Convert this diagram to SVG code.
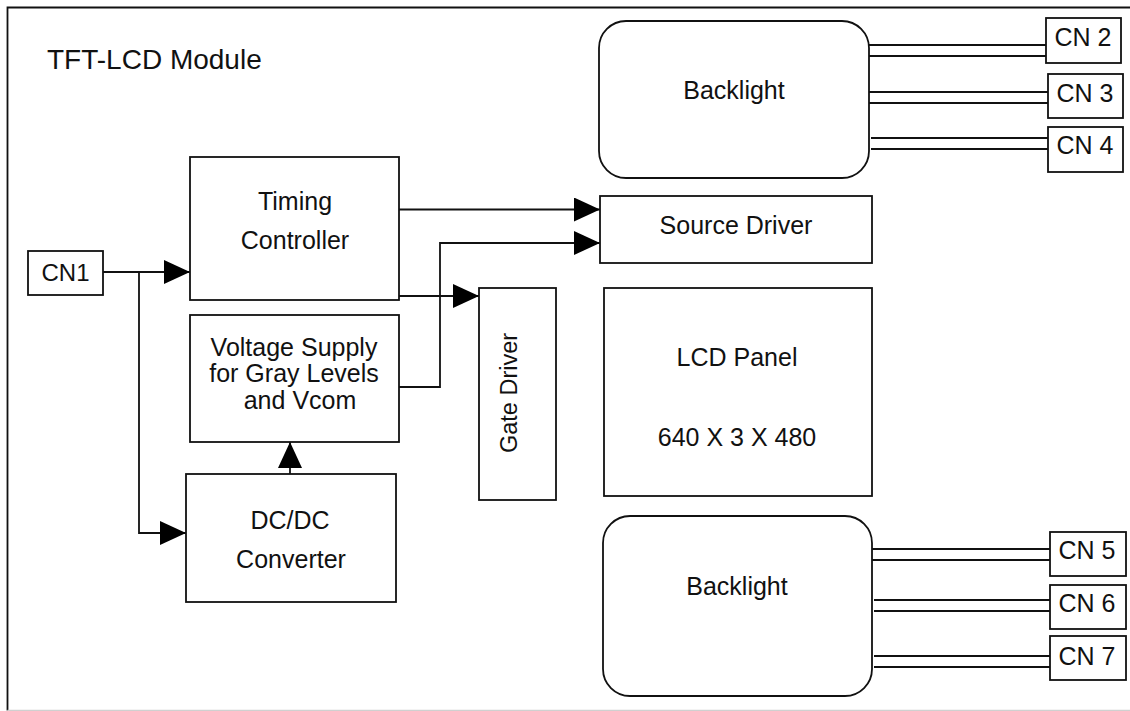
<svg xmlns="http://www.w3.org/2000/svg" width="1130" height="711" viewBox="0 0 1130 711">
<style>
.box{fill:#fff;stroke:#111;stroke-width:1.8}
.ln{fill:none;stroke:#111;stroke-width:1.8}
.t{font-family:"Liberation Sans",Arial,sans-serif;font-size:25px;fill:#111;text-anchor:middle}
</style>
<defs>
<marker id="ah" markerUnits="userSpaceOnUse" markerWidth="26" markerHeight="24" refX="26" refY="12" orient="auto">
<path d="M0,0 L26,12 L0,24 Z" fill="#000"/>
</marker>
</defs>
<rect width="1130" height="711" fill="#fff"/>
<g id="frame">
<path class="ln" d="M1130,7.5 H7.5 V710.5"/>
<line x1="7.5" y1="710.5" x2="1130" y2="710.5" stroke="#d0d0d0" stroke-width="1.6"/>
<text x="47" y="69" style="font-family:'Liberation Sans',Arial,sans-serif;font-size:28px;fill:#111">TFT-LCD Module</text>
</g>
<g id="connectors">
<path class="ln" d="M103,272 H190" marker-end="url(#ah)"/>
<path class="ln" d="M139,272 V533 H186" marker-end="url(#ah)"/>
<path class="ln" d="M399,209.5 H600" marker-end="url(#ah)"/>
<path class="ln" d="M399,387 H440 V243 H600" marker-end="url(#ah)"/>
<path class="ln" d="M399,296 H479" marker-end="url(#ah)"/>
<path class="ln" d="M290,474 V442" marker-end="url(#ah)"/>
<path class="ln" d="M869,45 H1046 M869,56 H1046 M869,92 H1048 M869,103 H1048 M871,138 H1048 M871,149 H1048"/>
<path class="ln" d="M872,549 H1050 M872,560 H1050 M874,600 H1050 M874,611 H1050 M874,656 H1050 M874,667 H1050"/>
</g>
<g id="cn1"><rect class="box" x="28" y="251" width="75" height="44"/><text class="t" x="65.5" y="281" style="font-size:24px">CN1</text></g>
<g id="timing"><rect class="box" x="190" y="157" width="209" height="143"/><text class="t" x="295" y="210">Timing</text><text class="t" x="295" y="249">Controller</text></g>
<g id="voltage"><rect class="box" x="190" y="315" width="209" height="127"/><text class="t" x="294" y="356">Voltage Supply</text><text class="t" x="294" y="382">for Gray Levels</text><text class="t" x="300" y="409">and Vcom</text></g>
<g id="dcdc"><rect class="box" x="186" y="474" width="210" height="128"/><text class="t" x="290" y="529">DC/DC</text><text class="t" x="291" y="568">Converter</text></g>
<g id="gate"><rect class="box" x="479" y="288" width="77" height="212"/><text class="t" transform="translate(517,393) rotate(-90)" style="font-size:23.5px">Gate Driver</text></g>
<g id="source"><rect class="box" x="600" y="196" width="272" height="67"/><text class="t" x="736" y="234">Source Driver</text></g>
<g id="lcd"><rect class="box" x="604" y="288" width="268" height="208"/><text class="t" x="737" y="366">LCD Panel</text><text class="t" x="737" y="446">640 X 3 X 480</text></g>
<g id="backlight1"><rect class="box" x="599" y="21" width="270" height="157" rx="27"/><text class="t" x="734" y="99">Backlight</text></g>
<g id="backlight2"><rect class="box" x="603" y="516" width="269" height="180" rx="27"/><text class="t" x="737" y="595">Backlight</text></g>
<g id="cn2"><rect class="box" x="1046" y="18" width="75" height="45"/><text class="t" x="1083" y="46">CN 2</text></g>
<g id="cn3"><rect class="box" x="1048" y="74" width="75" height="44"/><text class="t" x="1085" y="102">CN 3</text></g>
<g id="cn4"><rect class="box" x="1048" y="127" width="75" height="45"/><text class="t" x="1085" y="154">CN 4</text></g>
<g id="cn5"><rect class="box" x="1050" y="532" width="76" height="44"/><text class="t" x="1087" y="559">CN 5</text></g>
<g id="cn6"><rect class="box" x="1050" y="585" width="76" height="44"/><text class="t" x="1087" y="612">CN 6</text></g>
<g id="cn7"><rect class="box" x="1050" y="636" width="76" height="44"/><text class="t" x="1087" y="665">CN 7</text></g>
</svg>
